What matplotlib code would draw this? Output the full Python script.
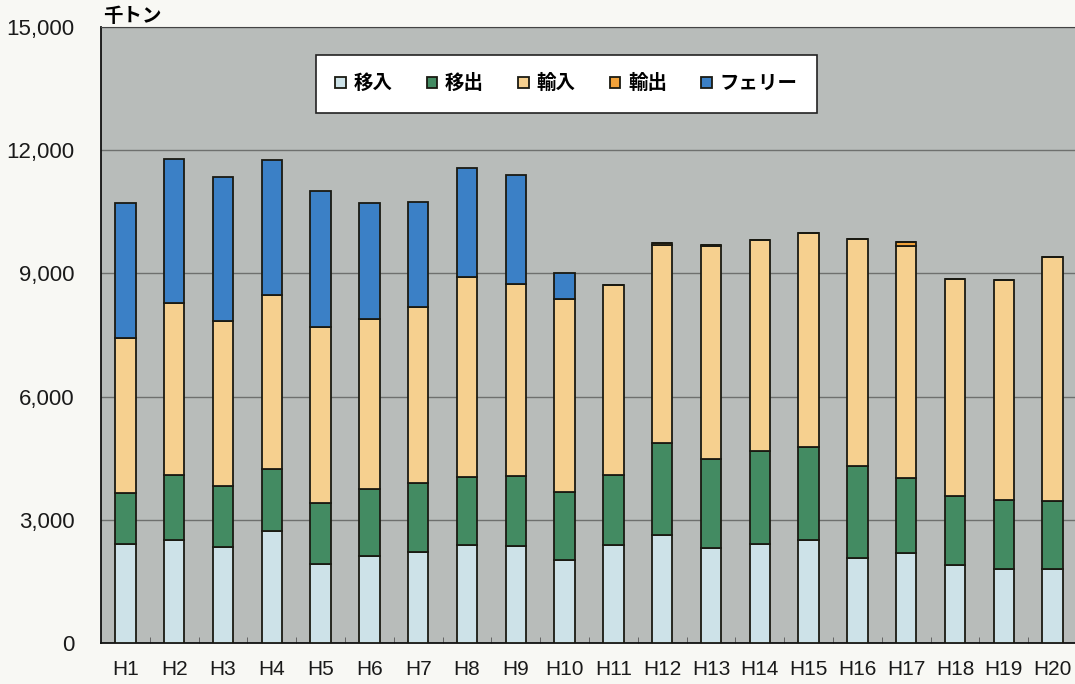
import numpy as np
import matplotlib.pyplot as plt

plt.rcParams['font.family'] = ['Liberation Sans', 'Noto Sans CJK JP', 'DejaVu Sans']

years = ['H1', 'H2', 'H3', 'H4', 'H5', 'H6', 'H7', 'H8', 'H9', 'H10',
         'H11', 'H12', 'H13', 'H14', 'H15', 'H16', 'H17', 'H18', 'H19', 'H20']
ini = [2400, 2520, 2340, 2720, 1930, 2130, 2210, 2380, 2360, 2010,
       2390, 2620, 2320, 2400, 2520, 2070, 2200, 1900, 1790, 1790]
ide = [1245, 1560, 1480, 1520, 1470, 1610, 1690, 1670, 1700, 1660,
       1700, 2240, 2160, 2280, 2260, 2230, 1810, 1670, 1700, 1670]
yunyu = [3785, 4195, 4020, 4245, 4285, 4140, 4285, 4865, 4680, 4705,
         4620, 4830, 5180, 5135, 5200, 5530, 5660, 5295, 5345, 5950]
yushutsu = [0, 0, 0, 0, 0, 0, 0, 0, 0, 0,
            0, 40, 30, 0, 0, 0, 100, 0, 0, 0]
ferry = [3295, 3515, 3500, 3275, 3315, 2830, 2565, 2650, 2645, 645,
         0, 0, 0, 0, 0, 0, 0, 0, 0, 0]
labels = ['移入', '移出', '輸入', '輸出', 'フェリー']
colors = ['#cde2e8', '#438b62', '#f6d08f', '#f2a23a', '#3b80c6']

fig = plt.figure(figsize=(10.75, 6.84), dpi=100, facecolor='#f8f8f4')
ax = fig.add_axes([101 / 1075, 1 - 643 / 684, 976 / 1075, 616 / 684])
ax.set_facecolor('#b8bcba')

x = np.arange(len(years))
bottom = np.zeros(len(years))
for vals, lab, c in zip([ini, ide, yunyu, yushutsu, ferry], labels, colors):
    ax.bar(x, vals, 0.42, bottom=bottom, color=c, edgecolor='#1a1a12',
           linewidth=1.3, label=lab, zorder=3)
    bottom += np.array(vals)

ax.set_xlim(-0.5, len(years) - 0.5)
ax.set_ylim(0, 15000)
ax.set_yticks([0, 3000, 6000, 9000, 12000, 15000])
ax.set_yticklabels(['0', '3,000', '6,000', '9,000', '12,000', '15,000'], fontsize=16)
ax.yaxis.grid(True, color='#6e706e', linewidth=1, zorder=1)
ax.tick_params(axis='y', length=0, pad=19, colors='#1a1a1a')
ax.set_xticks(x)
ax.set_xticklabels(years, fontsize=15)
ax.tick_params(axis='x', which='major', length=0, pad=12, colors='#1a1a1a')
ax.set_xticks(x[:-1] + 0.5, minor=True)
ax.tick_params(axis='x', which='minor', direction='in', length=4, color='#555555')

for s in ['left', 'bottom']:
    ax.spines[s].set_color('#111111')
    ax.spines[s].set_linewidth(1.3)
ax.spines['top'].set_color('#444444')
ax.spines['right'].set_visible(False)

fig.text(103 / 1075, 1 - 17 / 684, '千トン', fontsize=14, fontweight='bold',
         family=['Noto Sans CJK JP'], va='center', ha='left')

leg = ax.legend(loc='upper left', bbox_to_anchor=(0.220, 0.955), ncol=5,
                frameon=True, fancybox=False, borderaxespad=0,
                prop={'family': 'Noto Sans CJK JP', 'size': 14, 'weight': 'bold'},
                handlelength=0.55, handleheight=0.55, handletextpad=0.4,
                columnspacing=1.75, borderpad=1.0)
leg.get_frame().set_edgecolor('#222222')
leg.get_frame().set_linewidth(1.2)
leg.get_frame().set_facecolor('white')
leg.get_frame().set_alpha(1)
leg.set_zorder(5)

fig.savefig('out.png', dpi=100, facecolor=fig.get_facecolor())
